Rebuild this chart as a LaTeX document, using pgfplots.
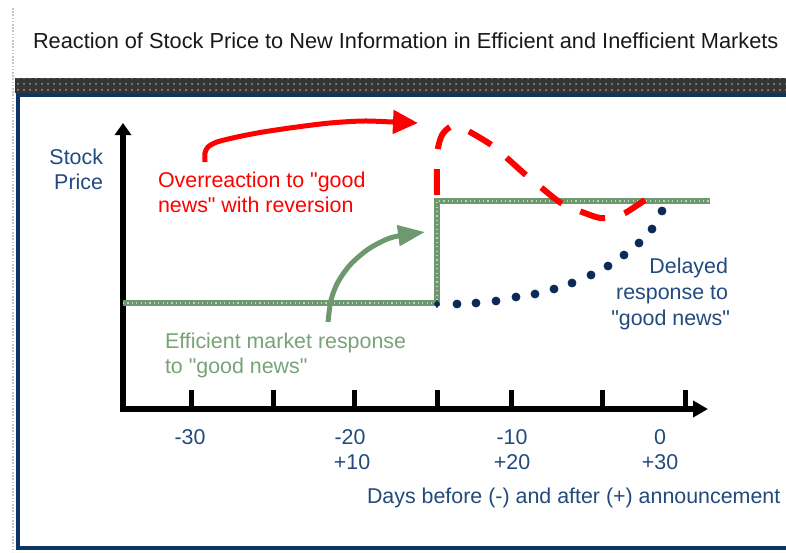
\documentclass[border=0pt]{standalone}
\usepackage{fontspec}
\setmainfont{Liberation Sans}[Ligatures=TeXOff]
\usepackage{pgfplots}
\pgfplotsset{compat=1.18}
\usetikzlibrary{arrows.meta,patterns}
\definecolor{navytxt}{HTML}{234A7E}
\definecolor{navydot}{HTML}{0A2A57}
\definecolor{navyborder}{HTML}{0C3566}
\definecolor{grn}{HTML}{6E986E}
\definecolor{grntxt}{HTML}{78A378}
\definecolor{rd}{HTML}{FF0000}
\definecolor{barc}{HTML}{353535}
\newcommand{\fs}{\fontsize{10.7}{12}\selectfont}
\newcommand{\ft}{\fontsize{10.88}{12}\selectfont}
\begin{document}
\begin{tikzpicture}[every node/.style={inner sep=0pt, outer sep=0pt}]
\begin{axis}[x=0.5pt,y=0.5pt,y dir=reverse,xmin=0,xmax=786,ymin=0,ymax=552,
  hide axis,clip=false,scale only axis]
% background and frame
\fill[white] (axis cs:0,0) rectangle (axis cs:786,552);
\draw[gray!45, line width=1.2pt, dash pattern=on 0.8pt off 0.8pt] (axis cs:13,8) -- (axis cs:13,552);
\fill[barc] (axis cs:15,78) rectangle (axis cs:786,93);
\fill[pattern=dots, pattern color=gray!80] (axis cs:15,78) rectangle (axis cs:786,93);
\draw[navyborder, line width=2pt] (axis cs:786,95) -- (axis cs:18,95) -- (axis cs:18,548) -- (axis cs:786,548);
% title
\node[anchor=base west, font=\ft, text=black!90] at (axis cs:33,48) {Reaction of Stock Price to New Information in Efficient and Inefficient Markets};
% axes
\addplot[black, line width=3pt, -{Triangle[length=6pt,width=8pt]}] coordinates {(123,412) (123,123)};
\addplot[black, line width=3pt, -{Triangle[length=7.5pt,width=8pt]}] coordinates {(120,409) (708,409)};
\addplot[black, line width=2.5pt, unbounded coords=jump] coordinates {
 (191,390) (191,409) (nan,nan) (273,390) (273,409) (nan,nan) (354,390) (354,409) (nan,nan)
 (437,390) (437,409) (nan,nan) (511,390) (511,409) (nan,nan) (602,390) (602,409) (nan,nan)
 (685,390) (685,409)};
% efficient market response
\addplot[grn, line width=3pt, line join=miter] coordinates {(123,303) (437,303) (437,201) (710,201)};
\addplot[grn!45!white, line width=0.7pt, dash pattern=on 0.6pt off 1.6pt] coordinates {(123,303) (437,303) (437,201) (710,201)};
% overreaction with reversion
\addplot[rd, line width=3pt, smooth, dash pattern=on 13pt off 10pt] coordinates {
 (437,195) (437,160) (438,148) (442,135) (450,127) (458,127) (470,132) (493,146)
 (508,159) (527,176) (543,189) (561,203) (582,212) (600,218) (612,217) (625,213) (645,200)};
% delayed response
\addplot[navydot, only marks, mark=*, mark size=2pt] coordinates {
 (457,304) (476,303) (496,301) (516,297) (535,294) (554,289) (572,283)
 (591,275) (608,266) (624,255) (639,243) (652,229) (662,211)};
\addplot[navydot, only marks, mark=diamond*, mark size=1.7pt] coordinates {(437,304)};
% annotation arrows
\addplot[rd, line width=2.5pt, smooth, -{Triangle[length=12.5pt,width=11.5pt]}] coordinates {
 (205,162) (205,153) (208,147) (217,142) (237,137) (263,132) (297,127) (330,123) (363,121) (393,122) (418,123)};
\addplot[grn, line width=2.5pt, smooth, -{Triangle[length=13.5pt,width=10pt]}] coordinates {
 (328,322) (331,300) (338,282) (350,265) (367,250) (385,240) (398,236) (425,232)};
% texts
\node[anchor=base east, font=\fs, text=navytxt] at (axis cs:103,164) {Stock};
\node[anchor=base east, font=\fs, text=navytxt] at (axis cs:103,189) {Price};
\node[anchor=base west, font=\fs, text=rd] at (axis cs:158,187) {Overreaction to "good};
\node[anchor=base west, font=\fs, text=rd] at (axis cs:158,212) {news" with reversion};
\node[anchor=base west, font=\fs, text=grntxt] at (axis cs:165,348) {Efficient market response};
\node[anchor=base west, font=\fs, text=grntxt] at (axis cs:165,373) {to "good news"};
\node[anchor=base east, font=\fs, text=navytxt] at (axis cs:728,273) {Delayed};
\node[anchor=base east, font=\fs, text=navytxt] at (axis cs:728,299) {response to};
\node[anchor=base east, font=\fs, text=navytxt] at (axis cs:730,325) {"good news"};
% tick labels
\node[anchor=base, font=\fs, text=navytxt] at (axis cs:190,444) {-30};
\node[anchor=base, font=\fs, text=navytxt] at (axis cs:350,444) {-20};
\node[anchor=base, font=\fs, text=navytxt] at (axis cs:352,469) {+10};
\node[anchor=base, font=\fs, text=navytxt] at (axis cs:512,444) {-10};
\node[anchor=base, font=\fs, text=navytxt] at (axis cs:512,469) {+20};
\node[anchor=base, font=\fs, text=navytxt] at (axis cs:660,444) {0};
\node[anchor=base, font=\fs, text=navytxt] at (axis cs:660,469) {+30};
\node[anchor=base west, font=\fs, text=navytxt] at (axis cs:367,503) {Days before (-) and after (+) announcement};
\end{axis}
\pgfresetboundingbox
\path[use as bounding box] (current axis.south west) rectangle (current axis.north east);
\end{tikzpicture}
\end{document}
